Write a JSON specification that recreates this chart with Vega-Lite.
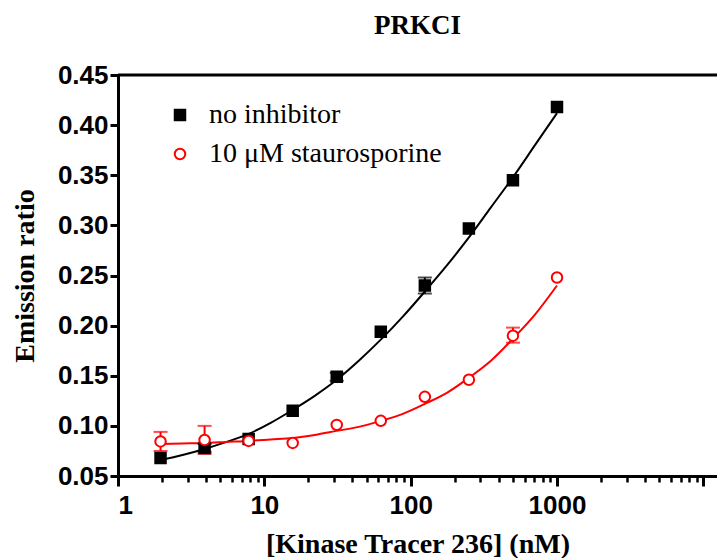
{
  "$schema": "https://vega.github.io/schema/vega-lite/v6.json",
  "width": 599,
  "height": 401,
  "autosize": {"type": "none"},
  "padding": {"left": 118, "top": 75, "right": 0, "bottom": 82},
  "background": "white",
  "title": {"text": "PRKCI", "font": "Liberation Serif", "fontSize": 27, "fontWeight": "bold", "color": "black", "offset": 22, "anchor": "middle"},
  "config": {
    "view": {"stroke": null},
    "axis": {"labelColor": "black", "tickColor": "black", "domainColor": "black", "grid": false, "titleColor": "black"},
    "legend": {"orient": "none", "legendX": 48, "legendY": 26, "padding": 0, "title": null,
               "labelFont": "Liberation Serif", "labelFontSize": 28, "labelColor": "black", "labelOffset": 15,
               "symbolSize": 110, "symbolStrokeWidth": 2, "symbolOpacity": 1, "symbolFillColor": "white", "rowPadding": 11, "labelLimit": 400}
  },
  "datasets": {
    "points": [
      {"series": "no inhibitor", "conc": 1.953, "value": 0.068, "lo": 0.068, "hi": 0.068},
      {"series": "no inhibitor", "conc": 3.906, "value": 0.078, "lo": 0.074, "hi": 0.082},
      {"series": "no inhibitor", "conc": 7.8125, "value": 0.087, "lo": 0.087, "hi": 0.087},
      {"series": "no inhibitor", "conc": 15.625, "value": 0.115, "lo": 0.115, "hi": 0.115},
      {"series": "no inhibitor", "conc": 31.25, "value": 0.149, "lo": 0.145, "hi": 0.153},
      {"series": "no inhibitor", "conc": 62.5, "value": 0.194, "lo": 0.194, "hi": 0.194},
      {"series": "no inhibitor", "conc": 125, "value": 0.240, "lo": 0.232, "hi": 0.248},
      {"series": "no inhibitor", "conc": 250, "value": 0.297, "lo": 0.297, "hi": 0.297},
      {"series": "no inhibitor", "conc": 500, "value": 0.345, "lo": 0.345, "hi": 0.345},
      {"series": "no inhibitor", "conc": 1000, "value": 0.418, "lo": 0.418, "hi": 0.418},
      {"series": "10 μM staurosporine", "conc": 1.953, "value": 0.0845, "lo": 0.075, "hi": 0.094},
      {"series": "10 μM staurosporine", "conc": 3.906, "value": 0.086, "lo": 0.072, "hi": 0.100},
      {"series": "10 μM staurosporine", "conc": 7.8125, "value": 0.085, "lo": 0.085, "hi": 0.085},
      {"series": "10 μM staurosporine", "conc": 15.625, "value": 0.083, "lo": 0.083, "hi": 0.083},
      {"series": "10 μM staurosporine", "conc": 31.25, "value": 0.101, "lo": 0.101, "hi": 0.101},
      {"series": "10 μM staurosporine", "conc": 62.5, "value": 0.105, "lo": 0.105, "hi": 0.105},
      {"series": "10 μM staurosporine", "conc": 125, "value": 0.129, "lo": 0.129, "hi": 0.129},
      {"series": "10 μM staurosporine", "conc": 250, "value": 0.146, "lo": 0.146, "hi": 0.146},
      {"series": "10 μM staurosporine", "conc": 500, "value": 0.190, "lo": 0.183, "hi": 0.198},
      {"series": "10 μM staurosporine", "conc": 1000, "value": 0.248, "lo": 0.248, "hi": 0.248}
    ],
    "fit": [
      {"series": "no inhibitor", "conc": 1.953, "value": 0.066},
      {"series": "no inhibitor", "conc": 2.76, "value": 0.071},
      {"series": "no inhibitor", "conc": 3.906, "value": 0.077},
      {"series": "no inhibitor", "conc": 5.52, "value": 0.084},
      {"series": "no inhibitor", "conc": 7.8125, "value": 0.092},
      {"series": "no inhibitor", "conc": 11.05, "value": 0.103},
      {"series": "no inhibitor", "conc": 15.625, "value": 0.116},
      {"series": "no inhibitor", "conc": 22.1, "value": 0.130},
      {"series": "no inhibitor", "conc": 31.25, "value": 0.146},
      {"series": "no inhibitor", "conc": 44.2, "value": 0.165},
      {"series": "no inhibitor", "conc": 62.5, "value": 0.186},
      {"series": "no inhibitor", "conc": 88.4, "value": 0.209},
      {"series": "no inhibitor", "conc": 125, "value": 0.234},
      {"series": "no inhibitor", "conc": 176.8, "value": 0.260},
      {"series": "no inhibitor", "conc": 250, "value": 0.288},
      {"series": "no inhibitor", "conc": 353.6, "value": 0.318},
      {"series": "no inhibitor", "conc": 500, "value": 0.348},
      {"series": "no inhibitor", "conc": 707, "value": 0.380},
      {"series": "no inhibitor", "conc": 1000, "value": 0.412},
      {"series": "10 μM staurosporine", "conc": 1.953, "value": 0.082},
      {"series": "10 μM staurosporine", "conc": 2.76, "value": 0.0825},
      {"series": "10 μM staurosporine", "conc": 3.906, "value": 0.083},
      {"series": "10 μM staurosporine", "conc": 5.52, "value": 0.084},
      {"series": "10 μM staurosporine", "conc": 7.8125, "value": 0.085},
      {"series": "10 μM staurosporine", "conc": 11.05, "value": 0.0865},
      {"series": "10 μM staurosporine", "conc": 15.625, "value": 0.088},
      {"series": "10 μM staurosporine", "conc": 22.1, "value": 0.091},
      {"series": "10 μM staurosporine", "conc": 31.25, "value": 0.095},
      {"series": "10 μM staurosporine", "conc": 44.2, "value": 0.099},
      {"series": "10 μM staurosporine", "conc": 62.5, "value": 0.105},
      {"series": "10 μM staurosporine", "conc": 88.4, "value": 0.112},
      {"series": "10 μM staurosporine", "conc": 125, "value": 0.122},
      {"series": "10 μM staurosporine", "conc": 176.8, "value": 0.133},
      {"series": "10 μM staurosporine", "conc": 250, "value": 0.148},
      {"series": "10 μM staurosporine", "conc": 353.6, "value": 0.165},
      {"series": "10 μM staurosporine", "conc": 500, "value": 0.187},
      {"series": "10 μM staurosporine", "conc": 707, "value": 0.211},
      {"series": "10 μM staurosporine", "conc": 1000, "value": 0.240}
    ],
    "frame": [{"top": 0.45}]
  },
  "resolve": {"axis": {"x": "independent", "y": "independent"}, "legend": {"color": "independent", "shape": "independent", "fill": "independent"}},
  "layer": [
    {
      "data": {"name": "fit"},
      "mark": {"type": "line", "strokeWidth": 2, "interpolate": "monotone"},
      "encoding": {
        "x": {"field": "conc", "type": "quantitative", "scale": {"type": "log", "domain": [1, 12400], "nice": false},
              "axis": {"orient": "bottom", "values": [2,3,4,5,6,7,8,9,20,30,40,50,60,70,80,90,200,300,400,500,600,700,800,900,2000,3000,4000,5000,6000,7000,8000,9000],
                       "labels": false, "domain": false, "tickSize": 6, "tickWidth": 2.5, "title": null}},
        "y": {"field": "value", "type": "quantitative", "scale": {"domain": [0.05, 0.45], "nice": false, "zero": false},
              "axis": {"orient": "left", "values": [0.05, 0.1, 0.15, 0.2, 0.25, 0.3, 0.35, 0.4, 0.45], "format": ".2f",
                       "tickSize": 8, "tickWidth": 3, "domainWidth": 3, "labelPadding": 2,
                       "labelFont": "Liberation Sans", "labelFontWeight": "bold", "labelFontSize": 26,
                       "title": "Emission ratio", "titleFont": "Liberation Serif", "titleFontWeight": "bold", "titleFontSize": 28, "titlePadding": 18}},
        "color": {"field": "series", "type": "nominal", "scale": {"domain": ["no inhibitor", "10 μM staurosporine"], "range": ["black", "#ff0000"]}, "legend": null}
      }
    },
    {
      "data": {"name": "points"},
      "transform": [{"filter": "datum.hi > datum.lo"}],
      "mark": {"type": "rule", "strokeWidth": 2},
      "encoding": {
        "x": {"field": "conc", "type": "quantitative", "scale": {"type": "log", "domain": [1, 12400], "nice": false}, "axis": null},
        "y": {"field": "lo", "type": "quantitative", "scale": {"domain": [0.05, 0.45], "nice": false, "zero": false}, "axis": null},
        "y2": {"field": "hi"},
        "color": {"field": "series", "type": "nominal", "scale": {"domain": ["no inhibitor", "10 μM staurosporine"], "range": ["black", "#ff0000"]}, "legend": null}
      }
    },
    {
      "data": {"name": "points"},
      "transform": [{"filter": "datum.hi > datum.lo"}],
      "mark": {"type": "tick", "orient": "horizontal", "size": 14, "thickness": 2},
      "encoding": {
        "x": {"field": "conc", "type": "quantitative", "scale": {"type": "log", "domain": [1, 12400], "nice": false}, "axis": null},
        "y": {"field": "lo", "type": "quantitative", "scale": {"domain": [0.05, 0.45], "nice": false, "zero": false}, "axis": null},
        "color": {"field": "series", "type": "nominal", "scale": {"domain": ["no inhibitor", "10 μM staurosporine"], "range": ["black", "#ff0000"]}, "legend": null}
      }
    },
    {
      "data": {"name": "points"},
      "transform": [{"filter": "datum.hi > datum.lo"}],
      "mark": {"type": "tick", "orient": "horizontal", "size": 14, "thickness": 2},
      "encoding": {
        "x": {"field": "conc", "type": "quantitative", "scale": {"type": "log", "domain": [1, 12400], "nice": false}, "axis": null},
        "y": {"field": "hi", "type": "quantitative", "scale": {"domain": [0.05, 0.45], "nice": false, "zero": false}, "axis": null},
        "color": {"field": "series", "type": "nominal", "scale": {"domain": ["no inhibitor", "10 μM staurosporine"], "range": ["black", "#ff0000"]}, "legend": null}
      }
    },
    {
      "data": {"name": "points"},
      "mark": {"type": "point", "size": 110, "strokeWidth": 2, "opacity": 1, "filled": false},
      "encoding": {
        "x": {"field": "conc", "type": "quantitative", "scale": {"type": "log", "domain": [1, 12400], "nice": false},
              "axis": {"orient": "bottom", "values": [1, 10, 100, 1000, 10000], "format": "d", "labelExpr": "datum.value > 5000 ? '' : datum.label",
                       "tickSize": 10, "tickWidth": 3, "domainWidth": 3, "labelPadding": 6,
                       "labelFont": "Liberation Sans", "labelFontWeight": "bold", "labelFontSize": 26,
                       "title": "[Kinase Tracer 236] (nM)", "titleFont": "Liberation Serif", "titleFontWeight": "bold", "titleFontSize": 28, "titlePadding": 12}},
        "y": {"field": "value", "type": "quantitative", "scale": {"domain": [0.05, 0.45], "nice": false, "zero": false}, "axis": null},
        "color": {"field": "series", "type": "nominal", "scale": {"domain": ["no inhibitor", "10 μM staurosporine"], "range": ["black", "#ff0000"]}},
        "shape": {"field": "series", "type": "nominal", "scale": {"domain": ["no inhibitor", "10 μM staurosporine"], "range": ["square", "circle"]}},
        "fill": {"field": "series", "type": "nominal", "scale": {"domain": ["no inhibitor", "10 μM staurosporine"], "range": ["black", "white"]}}
      }
    },
    {
      "data": {"name": "frame"},
      "mark": {"type": "rule", "color": "black", "strokeWidth": 3},
      "encoding": {
        "y": {"field": "top", "type": "quantitative", "scale": {"domain": [0.05, 0.45], "nice": false, "zero": false}, "axis": null}
      }
    }
  ]
}
